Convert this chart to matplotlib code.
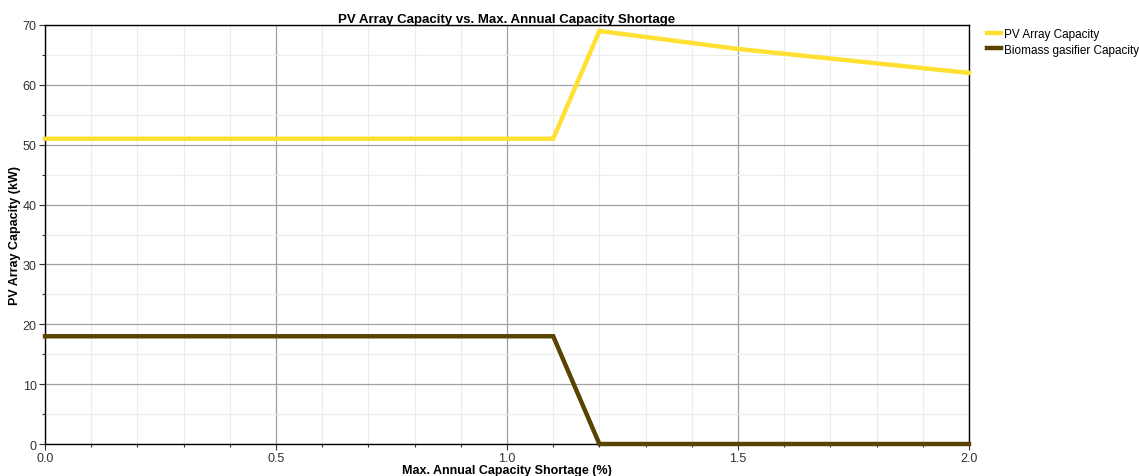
import matplotlib
matplotlib.use("Agg")
import matplotlib.pyplot as plt
from matplotlib.ticker import MultipleLocator

plt.rcParams['font.family'] = ['Liberation Sans', 'DejaVu Sans']

# Sensitivity results
shortage = [0.0, 0.5, 1.0, 1.1, 1.2, 1.5, 2.0]
pv_capacity = [51, 51, 51, 51, 69, 66, 62]
biomass_capacity = [18, 18, 18, 18, 0, 0, 0]

W, H = 1139, 477
fig = plt.figure(figsize=(W / 100, H / 100), dpi=100)
ax = fig.add_axes([45 / W, 1 - 445 / H, (969 - 45) / W, (445 - 26) / H])

ax.plot(shortage, pv_capacity, color='#FFE033', lw=3.2, label='PV Array Capacity',
        solid_joinstyle='miter', clip_on=False, zorder=3)
ax.plot(shortage, biomass_capacity, color='#5A4300', lw=3.2, label='Biomass gasifier Capacity',
        solid_joinstyle='miter', clip_on=False, zorder=3)

ax.set_xlim(0, 2.0)
ax.set_ylim(0, 70)
ax.xaxis.set_major_locator(MultipleLocator(0.5))
ax.xaxis.set_minor_locator(MultipleLocator(0.1))
ax.yaxis.set_major_locator(MultipleLocator(10))
ax.yaxis.set_minor_locator(MultipleLocator(5))
ax.xaxis.set_major_formatter(plt.FuncFormatter(lambda v, p: f'{v:.1f}'))

ax.grid(which='minor', color='#ececec', lw=0.8)
ax.grid(which='major', color='#a0a0a0', lw=0.9)
ax.set_axisbelow(True)

for s in ax.spines.values():
    s.set_color('black')
    s.set_linewidth(1.0)

ax.tick_params(which='major', direction='out', length=4, width=0.8, color='#333333',
               labelsize=9, labelcolor='#333333', pad=2)
ax.tick_params(which='minor', direction='out', length=2, width=0.8, color='#333333')

ax.set_title('PV Array Capacity vs. Max. Annual Capacity Shortage',
             fontsize=9.5, fontweight='bold', pad=2)
ax.set_xlabel('Max. Annual Capacity Shortage (%)', fontsize=9, fontweight='bold', labelpad=0)
ax.set_ylabel('PV Array Capacity (kW)', fontsize=9, fontweight='bold', labelpad=1)

ax.legend(loc='upper left', bbox_to_anchor=(1.014, 1.004), frameon=False,
          fontsize=8.5, handlelength=1.2, handletextpad=0.3, labelspacing=0.3,
          borderaxespad=0)

fig.savefig('out.png', dpi=100)
